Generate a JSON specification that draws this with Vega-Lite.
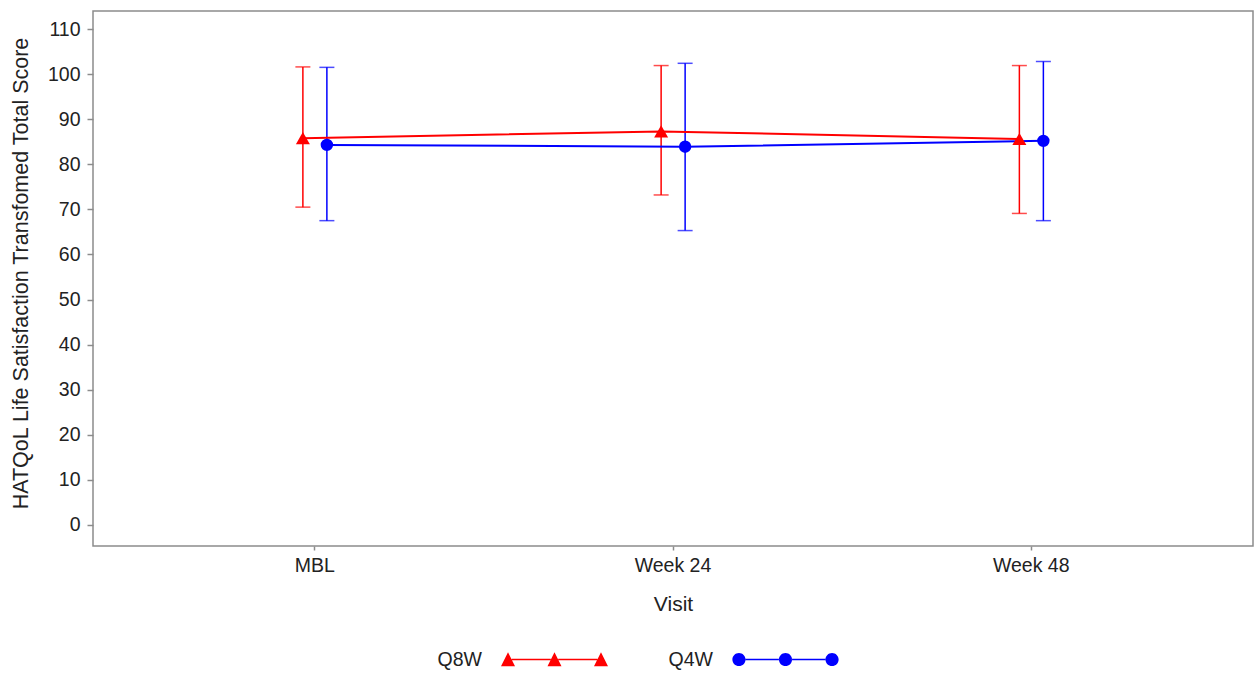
{
  "$schema": "https://vega.github.io/schema/vega-lite/v6.json",
  "width": 1160,
  "height": 535,
  "autosize": {"type": "none"},
  "padding": {"left": 93, "top": 11, "right": 1, "bottom": 127},
  "background": "white",
  "config": {
    "font": "Liberation Sans",
    "view": {"stroke": "#8c8c8c", "strokeWidth": 1.5},
    "axis": {
      "domain": false,
      "grid": false,
      "tickColor": "#8c8c8c",
      "tickWidth": 1.5,
      "labelFont": "Liberation Sans",
      "labelFontSize": 19.5,
      "labelColor": "#222222",
      "titleFont": "Liberation Sans",
      "titleFontSize": 21,
      "titleFontWeight": "normal",
      "titleColor": "#222222"
    },
    "legend": {
      "labelFont": "Liberation Sans",
      "labelFontSize": 19.5,
      "labelColor": "#222222"
    }
  },
  "data": {
    "values": [
      {"visit": "MBL", "grp": "Q8W", "mean": 85.8, "lo": 70.5, "hi": 101.6},
      {"visit": "MBL", "grp": "Q4W", "mean": 84.3, "lo": 67.5, "hi": 101.5},
      {"visit": "Week 24", "grp": "Q8W", "mean": 87.3, "lo": 73.2, "hi": 101.9},
      {"visit": "Week 24", "grp": "Q4W", "mean": 83.9, "lo": 65.3, "hi": 102.4},
      {"visit": "Week 48", "grp": "Q8W", "mean": 85.6, "lo": 69.1, "hi": 101.9},
      {"visit": "Week 48", "grp": "Q4W", "mean": 85.2, "lo": 67.5, "hi": 102.8}
    ]
  },
  "encoding": {
    "x": {
      "field": "visit",
      "type": "nominal",
      "sort": ["MBL", "Week 24", "Week 48"],
      "scale": {"type": "band", "paddingInner": 0, "paddingOuter": 0.119},
      "axis": {"title": "Visit", "labelAngle": 0, "tickSize": 4, "labelPadding": 6, "titlePadding": 19}
    },
    "xOffset": {
      "field": "grp",
      "type": "nominal",
      "sort": ["Q8W", "Q4W"],
      "scale": {"type": "point", "padding": 0, "range": [167.25, 191.25]}
    },
    "color": {
      "field": "grp",
      "type": "nominal",
      "sort": ["Q8W", "Q4W"],
      "scale": {"domain": ["Q8W", "Q4W"], "range": ["#ff0000", "#0000ff"]},
      "legend": {
        "title": null,
        "orient": "none",
        "direction": "horizontal",
        "legendX": 408,
        "legendY": 595,
        "symbolSize": 11449,
        "symbolStrokeWidth": 0,
        "symbolOpacity": 1,
        "labelAlign": "right",
        "labelOffset": -126,
        "columnPadding": 60
      }
    }
  },
  "layer": [
    {
      "mark": {"type": "rule", "strokeWidth": 1.5},
      "encoding": {
        "y": {
          "field": "lo",
          "type": "quantitative",
          "scale": {"domain": [-4.66, 114], "nice": false, "zero": false},
          "axis": {
            "title": "HATQoL Life Satisfaction Transfomed Total Score",
            "values": [0, 10, 20, 30, 40, 50, 60, 70, 80, 90, 100, 110],
            "tickSize": 6,
            "labelPadding": 7,
            "titlePadding": 15,
            "titleFontSize": 21.5,
            "titleY": 262
          }
        },
        "y2": {"field": "hi"}
      }
    },
    {
      "mark": {"type": "tick", "orient": "horizontal", "size": 15, "thickness": 1.5},
      "encoding": {"y": {"field": "lo", "type": "quantitative"}}
    },
    {
      "mark": {"type": "tick", "orient": "horizontal", "size": 15, "thickness": 1.5},
      "encoding": {"y": {"field": "hi", "type": "quantitative"}}
    },
    {
      "mark": {"type": "line", "strokeWidth": 2},
      "encoding": {"y": {"field": "mean", "type": "quantitative"}}
    },
    {
      "transform": [{"filter": "datum.grp === 'Q8W'"}],
      "mark": {"type": "point", "filled": true, "opacity": 1, "size": 196, "shape": "triangle-up"},
      "encoding": {"y": {"field": "mean", "type": "quantitative"}}
    },
    {
      "transform": [{"filter": "datum.grp === 'Q4W'"}],
      "mark": {"type": "point", "filled": true, "opacity": 1, "size": 154, "shape": "circle"},
      "encoding": {"y": {"field": "mean", "type": "quantitative"}}
    },
    {
      "description": "Legend key only: a line with three markers for each group.",
      "transform": [{"filter": "false"}],
      "mark": {"type": "point", "filled": true, "opacity": 1},
      "encoding": {
        "y": {"field": "mean", "type": "quantitative"},
        "shape": {
          "field": "grp",
          "type": "nominal",
          "scale": {
            "domain": ["Q8W", "Q4W"],
            "range": [
              "M-1,0.125L-0.869,-0.137L-0.738,0.125Z M-0.131,0.125L0,-0.137L0.131,0.125Z M0.738,0.125L0.869,-0.137L1,0.125Z M-0.8,-0.014L-0.07,-0.014L-0.07,0.014L-0.8,0.014Z M0.07,-0.014L0.8,-0.014L0.8,0.014L0.07,0.014Z",
              "M-0.993,0A0.123,0.123 0 1,0 -0.747,0A0.123,0.123 0 1,0 -0.993,0Z M-0.123,0A0.123,0.123 0 1,0 0.123,0A0.123,0.123 0 1,0 -0.123,0Z M0.747,0A0.123,0.123 0 1,0 0.993,0A0.123,0.123 0 1,0 0.747,0Z M-0.75,-0.014L-0.12,-0.014L-0.12,0.014L-0.75,0.014Z M0.12,-0.014L0.75,-0.014L0.75,0.014L0.12,0.014Z"
            ]
          }
        }
      }
    }
  ]
}
